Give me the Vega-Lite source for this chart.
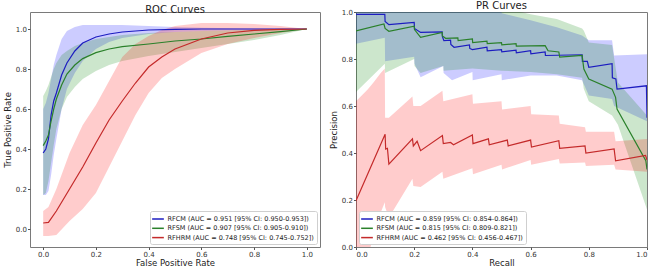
{
  "$schema": "https://vega.github.io/schema/vega-lite/v6.json",
  "background": "white",
  "padding": {"left": 2, "right": 7, "top": 0, "bottom": 2},
  "config": {
    "font": "DejaVu Sans",
    "view": {"stroke": "#7a7a7a", "strokeWidth": 1},
    "axis": {
      "grid": false, "domain": false,
      "labelFont": "DejaVu Sans", "labelFontSize": 7, "labelColor": "#333",
      "titleFont": "DejaVu Sans", "titleFontSize": 8.5, "titleFontWeight": "normal", "titleColor": "#222",
      "tickColor": "#555", "tickSize": 2.5, "labelPadding": 1
    },
    "axisY": {"minExtent": 16, "maxExtent": 16, "titlePadding": 2},
    "axisX": {"minExtent": 10, "maxExtent": 10, "titlePadding": 1},
    "title": {"font": "DejaVu Sans", "fontSize": 10, "fontWeight": "normal", "color": "#222", "offset": -3},
    "legend": {
      "offset": 3, "fillColor": "white", "strokeColor": "#cfcfcf", "padding": 2.5, "cornerRadius": 2,
      "labelFont": "DejaVu Sans", "labelFontSize": 6.5, "labelColor": "#222", "labelLimit": 300,
      "symbolType": "M-1.3,0H1.3", "symbolSize": 81, "symbolStrokeWidth": 1.5, "rowPadding": 0.3
    }
  },
  "datasets": {
    "roc": [
      {"model": "RFCM", "fpr": 0, "tpr": 0.38, "lo": 0.17, "hi": 0.6},
      {"model": "RFCM", "fpr": 0.01, "tpr": 0.4, "lo": 0.17, "hi": 0.63},
      {"model": "RFCM", "fpr": 0.02, "tpr": 0.45, "lo": 0.19, "hi": 0.68},
      {"model": "RFCM", "fpr": 0.03, "tpr": 0.57, "lo": 0.27, "hi": 0.75},
      {"model": "RFCM", "fpr": 0.04, "tpr": 0.64, "lo": 0.37, "hi": 0.82},
      {"model": "RFCM", "fpr": 0.05, "tpr": 0.68, "lo": 0.45, "hi": 0.87},
      {"model": "RFCM", "fpr": 0.07, "tpr": 0.77, "lo": 0.6, "hi": 0.95},
      {"model": "RFCM", "fpr": 0.09, "tpr": 0.83, "lo": 0.7, "hi": 0.99},
      {"model": "RFCM", "fpr": 0.12, "tpr": 0.89, "lo": 0.78, "hi": 1.01},
      {"model": "RFCM", "fpr": 0.15, "tpr": 0.93, "lo": 0.84, "hi": 1.02},
      {"model": "RFCM", "fpr": 0.2, "tpr": 0.96, "lo": 0.9, "hi": 1.02},
      {"model": "RFCM", "fpr": 0.25, "tpr": 0.975, "lo": 0.935, "hi": 1.02},
      {"model": "RFCM", "fpr": 0.3, "tpr": 0.985, "lo": 0.955, "hi": 1.02},
      {"model": "RFCM", "fpr": 0.4, "tpr": 0.995, "lo": 0.975, "hi": 1.015},
      {"model": "RFCM", "fpr": 0.5, "tpr": 0.998, "lo": 0.985, "hi": 1.01},
      {"model": "RFCM", "fpr": 0.6, "tpr": 1.0, "lo": 0.99, "hi": 1.006},
      {"model": "RFCM", "fpr": 0.8, "tpr": 1.0, "lo": 0.995, "hi": 1.003},
      {"model": "RFCM", "fpr": 1.0, "tpr": 1.0, "lo": 1.0, "hi": 1.0},
      {"model": "RFSM", "fpr": 0, "tpr": 0.417, "lo": 0.17, "hi": 0.665},
      {"model": "RFSM", "fpr": 0.01, "tpr": 0.44, "lo": 0.18, "hi": 0.69},
      {"model": "RFSM", "fpr": 0.02, "tpr": 0.47, "lo": 0.24, "hi": 0.72},
      {"model": "RFSM", "fpr": 0.03, "tpr": 0.54, "lo": 0.33, "hi": 0.76},
      {"model": "RFSM", "fpr": 0.04, "tpr": 0.6, "lo": 0.42, "hi": 0.8},
      {"model": "RFSM", "fpr": 0.05, "tpr": 0.65, "lo": 0.5, "hi": 0.83},
      {"model": "RFSM", "fpr": 0.07, "tpr": 0.72, "lo": 0.6, "hi": 0.87},
      {"model": "RFSM", "fpr": 0.09, "tpr": 0.775, "lo": 0.66, "hi": 0.89},
      {"model": "RFSM", "fpr": 0.12, "tpr": 0.82, "lo": 0.71, "hi": 0.915},
      {"model": "RFSM", "fpr": 0.15, "tpr": 0.852, "lo": 0.75, "hi": 0.93},
      {"model": "RFSM", "fpr": 0.2, "tpr": 0.882, "lo": 0.79, "hi": 0.95},
      {"model": "RFSM", "fpr": 0.25, "tpr": 0.9, "lo": 0.82, "hi": 0.96},
      {"model": "RFSM", "fpr": 0.3, "tpr": 0.912, "lo": 0.84, "hi": 0.97},
      {"model": "RFSM", "fpr": 0.4, "tpr": 0.925, "lo": 0.865, "hi": 0.98},
      {"model": "RFSM", "fpr": 0.5, "tpr": 0.94, "lo": 0.885, "hi": 0.985},
      {"model": "RFSM", "fpr": 0.6, "tpr": 0.95, "lo": 0.905, "hi": 0.99},
      {"model": "RFSM", "fpr": 0.7, "tpr": 0.963, "lo": 0.925, "hi": 0.993},
      {"model": "RFSM", "fpr": 0.8, "tpr": 0.975, "lo": 0.945, "hi": 0.996},
      {"model": "RFSM", "fpr": 0.9, "tpr": 0.987, "lo": 0.97, "hi": 0.998},
      {"model": "RFSM", "fpr": 1.0, "tpr": 1.0, "lo": 1.0, "hi": 1.0},
      {"model": "RFHRM", "fpr": 0, "tpr": 0.03, "lo": -0.035, "hi": 0.09},
      {"model": "RFHRM", "fpr": 0.02, "tpr": 0.033, "lo": -0.035, "hi": 0.11},
      {"model": "RFHRM", "fpr": 0.05, "tpr": 0.09, "lo": -0.03, "hi": 0.2},
      {"model": "RFHRM", "fpr": 0.1, "tpr": 0.2, "lo": 0.04, "hi": 0.38},
      {"model": "RFHRM", "fpr": 0.15, "tpr": 0.31, "lo": 0.1, "hi": 0.52},
      {"model": "RFHRM", "fpr": 0.2, "tpr": 0.43, "lo": 0.18, "hi": 0.62},
      {"model": "RFHRM", "fpr": 0.25, "tpr": 0.545, "lo": 0.31, "hi": 0.74},
      {"model": "RFHRM", "fpr": 0.3, "tpr": 0.64, "lo": 0.44, "hi": 0.86},
      {"model": "RFHRM", "fpr": 0.35, "tpr": 0.73, "lo": 0.57, "hi": 0.925},
      {"model": "RFHRM", "fpr": 0.4, "tpr": 0.81, "lo": 0.68, "hi": 0.965},
      {"model": "RFHRM", "fpr": 0.45, "tpr": 0.86, "lo": 0.755, "hi": 0.995},
      {"model": "RFHRM", "fpr": 0.5, "tpr": 0.9, "lo": 0.8, "hi": 1.015},
      {"model": "RFHRM", "fpr": 0.6, "tpr": 0.95, "lo": 0.88, "hi": 1.03},
      {"model": "RFHRM", "fpr": 0.7, "tpr": 0.98, "lo": 0.925, "hi": 1.03},
      {"model": "RFHRM", "fpr": 0.8, "tpr": 0.993, "lo": 0.955, "hi": 1.025},
      {"model": "RFHRM", "fpr": 0.9, "tpr": 0.998, "lo": 0.98, "hi": 1.015},
      {"model": "RFHRM", "fpr": 1.0, "tpr": 1.0, "lo": 1.0, "hi": 1.0}
    ],
    "pr_curve": [
      {"model": "RFCM", "recall": 0, "precision": 0.99},
      {"model": "RFCM", "recall": 0.099, "precision": 0.99},
      {"model": "RFCM", "recall": 0.1, "precision": 0.96},
      {"model": "RFCM", "recall": 0.113, "precision": 0.946},
      {"model": "RFCM", "recall": 0.2, "precision": 0.956},
      {"model": "RFCM", "recall": 0.201, "precision": 0.93},
      {"model": "RFCM", "recall": 0.222, "precision": 0.913},
      {"model": "RFCM", "recall": 0.296, "precision": 0.915},
      {"model": "RFCM", "recall": 0.297, "precision": 0.895},
      {"model": "RFCM", "recall": 0.302, "precision": 0.878},
      {"model": "RFCM", "recall": 0.325, "precision": 0.88},
      {"model": "RFCM", "recall": 0.326, "precision": 0.862},
      {"model": "RFCM", "recall": 0.337, "precision": 0.85},
      {"model": "RFCM", "recall": 0.39, "precision": 0.86},
      {"model": "RFCM", "recall": 0.391, "precision": 0.845},
      {"model": "RFCM", "recall": 0.4, "precision": 0.84},
      {"model": "RFCM", "recall": 0.45, "precision": 0.85},
      {"model": "RFCM", "recall": 0.451, "precision": 0.835},
      {"model": "RFCM", "recall": 0.5, "precision": 0.84},
      {"model": "RFCM", "recall": 0.501, "precision": 0.83},
      {"model": "RFCM", "recall": 0.55, "precision": 0.838},
      {"model": "RFCM", "recall": 0.551, "precision": 0.826},
      {"model": "RFCM", "recall": 0.6, "precision": 0.835},
      {"model": "RFCM", "recall": 0.601, "precision": 0.822},
      {"model": "RFCM", "recall": 0.65, "precision": 0.83},
      {"model": "RFCM", "recall": 0.651, "precision": 0.815},
      {"model": "RFCM", "recall": 0.777, "precision": 0.818},
      {"model": "RFCM", "recall": 0.778, "precision": 0.79},
      {"model": "RFCM", "recall": 0.795, "precision": 0.79},
      {"model": "RFCM", "recall": 0.8, "precision": 0.765},
      {"model": "RFCM", "recall": 0.88, "precision": 0.78},
      {"model": "RFCM", "recall": 0.881, "precision": 0.72},
      {"model": "RFCM", "recall": 0.893, "precision": 0.715},
      {"model": "RFCM", "recall": 0.897, "precision": 0.672},
      {"model": "RFCM", "recall": 0.998, "precision": 0.686},
      {"model": "RFCM", "recall": 1.0, "precision": 0.55},
      {"model": "RFSM", "recall": 0, "precision": 0.92},
      {"model": "RFSM", "recall": 0.096, "precision": 0.949},
      {"model": "RFSM", "recall": 0.1, "precision": 0.93},
      {"model": "RFSM", "recall": 0.113, "precision": 0.918},
      {"model": "RFSM", "recall": 0.2, "precision": 0.94},
      {"model": "RFSM", "recall": 0.201, "precision": 0.925},
      {"model": "RFSM", "recall": 0.222, "precision": 0.892},
      {"model": "RFSM", "recall": 0.296, "precision": 0.913},
      {"model": "RFSM", "recall": 0.297, "precision": 0.898},
      {"model": "RFSM", "recall": 0.308, "precision": 0.888},
      {"model": "RFSM", "recall": 0.35, "precision": 0.89},
      {"model": "RFSM", "recall": 0.351, "precision": 0.878},
      {"model": "RFSM", "recall": 0.4, "precision": 0.885},
      {"model": "RFSM", "recall": 0.401, "precision": 0.87},
      {"model": "RFSM", "recall": 0.45, "precision": 0.876},
      {"model": "RFSM", "recall": 0.451, "precision": 0.866},
      {"model": "RFSM", "recall": 0.5, "precision": 0.87},
      {"model": "RFSM", "recall": 0.501, "precision": 0.86},
      {"model": "RFSM", "recall": 0.55, "precision": 0.865},
      {"model": "RFSM", "recall": 0.551, "precision": 0.855},
      {"model": "RFSM", "recall": 0.65, "precision": 0.857},
      {"model": "RFSM", "recall": 0.66, "precision": 0.835},
      {"model": "RFSM", "recall": 0.697, "precision": 0.83},
      {"model": "RFSM", "recall": 0.7, "precision": 0.808},
      {"model": "RFSM", "recall": 0.777, "precision": 0.815},
      {"model": "RFSM", "recall": 0.783, "precision": 0.757},
      {"model": "RFSM", "recall": 0.8, "precision": 0.715},
      {"model": "RFSM", "recall": 0.88, "precision": 0.672},
      {"model": "RFSM", "recall": 0.892, "precision": 0.637},
      {"model": "RFSM", "recall": 0.897, "precision": 0.587},
      {"model": "RFSM", "recall": 0.996, "precision": 0.367},
      {"model": "RFSM", "recall": 1.0, "precision": 0.33},
      {"model": "RFHRM", "recall": 0, "precision": 0.197},
      {"model": "RFHRM", "recall": 0.1, "precision": 0.48},
      {"model": "RFHRM", "recall": 0.102, "precision": 0.417},
      {"model": "RFHRM", "recall": 0.108, "precision": 0.42},
      {"model": "RFHRM", "recall": 0.113, "precision": 0.353},
      {"model": "RFHRM", "recall": 0.194, "precision": 0.46},
      {"model": "RFHRM", "recall": 0.197, "precision": 0.43},
      {"model": "RFHRM", "recall": 0.21, "precision": 0.45},
      {"model": "RFHRM", "recall": 0.222, "precision": 0.41},
      {"model": "RFHRM", "recall": 0.297, "precision": 0.474},
      {"model": "RFHRM", "recall": 0.3, "precision": 0.44},
      {"model": "RFHRM", "recall": 0.325, "precision": 0.445},
      {"model": "RFHRM", "recall": 0.335, "precision": 0.435},
      {"model": "RFHRM", "recall": 0.4, "precision": 0.477},
      {"model": "RFHRM", "recall": 0.402, "precision": 0.44},
      {"model": "RFHRM", "recall": 0.455, "precision": 0.46},
      {"model": "RFHRM", "recall": 0.458, "precision": 0.435},
      {"model": "RFHRM", "recall": 0.52, "precision": 0.455},
      {"model": "RFHRM", "recall": 0.523, "precision": 0.43},
      {"model": "RFHRM", "recall": 0.6, "precision": 0.455},
      {"model": "RFHRM", "recall": 0.603, "precision": 0.425},
      {"model": "RFHRM", "recall": 0.697, "precision": 0.452},
      {"model": "RFHRM", "recall": 0.7, "precision": 0.42},
      {"model": "RFHRM", "recall": 0.787, "precision": 0.43},
      {"model": "RFHRM", "recall": 0.79, "precision": 0.4},
      {"model": "RFHRM", "recall": 0.887, "precision": 0.417},
      {"model": "RFHRM", "recall": 0.892, "precision": 0.367},
      {"model": "RFHRM", "recall": 0.995, "precision": 0.39},
      {"model": "RFHRM", "recall": 1.0, "precision": 0.37}
    ],
    "pr_band": [
      {"model": "RFCM", "recall": 0, "lo": 0.865, "hi": 1.02},
      {"model": "RFCM", "recall": 0.099, "lo": 0.89, "hi": 1.02},
      {"model": "RFCM", "recall": 0.1, "lo": 0.79, "hi": 1.02},
      {"model": "RFCM", "recall": 0.2, "lo": 0.81, "hi": 1.02},
      {"model": "RFCM", "recall": 0.201, "lo": 0.78, "hi": 1.02},
      {"model": "RFCM", "recall": 0.222, "lo": 0.722, "hi": 1.02},
      {"model": "RFCM", "recall": 0.3, "lo": 0.77, "hi": 1.02},
      {"model": "RFCM", "recall": 0.301, "lo": 0.74, "hi": 1.02},
      {"model": "RFCM", "recall": 0.33, "lo": 0.71, "hi": 1.02},
      {"model": "RFCM", "recall": 0.4, "lo": 0.745, "hi": 1.02},
      {"model": "RFCM", "recall": 0.401, "lo": 0.71, "hi": 1.02},
      {"model": "RFCM", "recall": 0.5, "lo": 0.735, "hi": 1.0},
      {"model": "RFCM", "recall": 0.501, "lo": 0.71, "hi": 0.995},
      {"model": "RFCM", "recall": 0.6, "lo": 0.73, "hi": 0.965},
      {"model": "RFCM", "recall": 0.69, "lo": 0.73, "hi": 0.935},
      {"model": "RFCM", "recall": 0.777, "lo": 0.71, "hi": 0.9},
      {"model": "RFCM", "recall": 0.8, "lo": 0.645, "hi": 0.88},
      {"model": "RFCM", "recall": 0.88, "lo": 0.63, "hi": 0.88},
      {"model": "RFCM", "recall": 0.887, "lo": 0.6, "hi": 0.815},
      {"model": "RFCM", "recall": 1.0, "lo": 0.535, "hi": 0.82},
      {"model": "RFSM", "recall": 0, "lo": 0.66, "hi": 1.02},
      {"model": "RFSM", "recall": 0.099, "lo": 0.78, "hi": 1.02},
      {"model": "RFSM", "recall": 0.1, "lo": 0.74, "hi": 1.02},
      {"model": "RFSM", "recall": 0.2, "lo": 0.8, "hi": 1.02},
      {"model": "RFSM", "recall": 0.201, "lo": 0.77, "hi": 1.02},
      {"model": "RFSM", "recall": 0.222, "lo": 0.74, "hi": 1.02},
      {"model": "RFSM", "recall": 0.3, "lo": 0.77, "hi": 1.02},
      {"model": "RFSM", "recall": 0.301, "lo": 0.75, "hi": 1.02},
      {"model": "RFSM", "recall": 0.4, "lo": 0.76, "hi": 1.02},
      {"model": "RFSM", "recall": 0.5, "lo": 0.75, "hi": 1.02},
      {"model": "RFSM", "recall": 0.6, "lo": 0.745, "hi": 0.99},
      {"model": "RFSM", "recall": 0.69, "lo": 0.735, "hi": 0.97},
      {"model": "RFSM", "recall": 0.777, "lo": 0.72, "hi": 0.93},
      {"model": "RFSM", "recall": 0.783, "lo": 0.672, "hi": 0.92},
      {"model": "RFSM", "recall": 0.8, "lo": 0.62, "hi": 0.87},
      {"model": "RFSM", "recall": 0.88, "lo": 0.56, "hi": 0.86},
      {"model": "RFSM", "recall": 0.9, "lo": 0.52, "hi": 0.7},
      {"model": "RFSM", "recall": 1.0, "lo": 0.16, "hi": 0.56},
      {"model": "RFHRM", "recall": 0, "lo": -0.1, "hi": 0.62},
      {"model": "RFHRM", "recall": 0.04, "lo": -0.05, "hi": 0.67},
      {"model": "RFHRM", "recall": 0.06, "lo": 0.05, "hi": 0.7},
      {"model": "RFHRM", "recall": 0.085, "lo": 0.147, "hi": 0.74},
      {"model": "RFHRM", "recall": 0.099, "lo": 0.19, "hi": 0.76},
      {"model": "RFHRM", "recall": 0.1, "lo": 0.17, "hi": 0.55},
      {"model": "RFHRM", "recall": 0.113, "lo": 0.125, "hi": 0.55},
      {"model": "RFHRM", "recall": 0.194, "lo": 0.29, "hi": 0.64},
      {"model": "RFHRM", "recall": 0.197, "lo": 0.26, "hi": 0.6},
      {"model": "RFHRM", "recall": 0.222, "lo": 0.255, "hi": 0.6},
      {"model": "RFHRM", "recall": 0.297, "lo": 0.32, "hi": 0.665},
      {"model": "RFHRM", "recall": 0.3, "lo": 0.29, "hi": 0.62},
      {"model": "RFHRM", "recall": 0.4, "lo": 0.335, "hi": 0.65},
      {"model": "RFHRM", "recall": 0.402, "lo": 0.31, "hi": 0.61},
      {"model": "RFHRM", "recall": 0.5, "lo": 0.35, "hi": 0.62},
      {"model": "RFHRM", "recall": 0.502, "lo": 0.33, "hi": 0.585},
      {"model": "RFHRM", "recall": 0.6, "lo": 0.37, "hi": 0.6},
      {"model": "RFHRM", "recall": 0.602, "lo": 0.35, "hi": 0.565},
      {"model": "RFHRM", "recall": 0.697, "lo": 0.374, "hi": 0.56},
      {"model": "RFHRM", "recall": 0.7, "lo": 0.355, "hi": 0.525},
      {"model": "RFHRM", "recall": 0.787, "lo": 0.36, "hi": 0.51},
      {"model": "RFHRM", "recall": 0.79, "lo": 0.345, "hi": 0.49},
      {"model": "RFHRM", "recall": 0.887, "lo": 0.35, "hi": 0.49},
      {"model": "RFHRM", "recall": 0.892, "lo": 0.33, "hi": 0.45},
      {"model": "RFHRM", "recall": 1.0, "lo": 0.32, "hi": 0.46}
    ]
  },
  "spacing": 7,
  "resolve": {
    "scale": {"color": "independent", "fill": "independent"},
    "legend": {"color": "independent", "fill": "independent"}
  },
  "hconcat": [
    {
      "width": 290,
      "height": 235,
      "title": "ROC Curves",
      "data": {"name": "roc"},
      "layer": [
        {
          "mark": {"type": "area", "opacity": 0.2},
          "encoding": {
            "x": {"field": "fpr", "type": "quantitative", "scale": {"domain": [-0.05, 1.05], "nice": false, "zero": false}},
            "y": {"field": "lo", "type": "quantitative", "scale": {"domain": [-0.09, 1.085], "nice": false, "zero": false}},
            "y2": {"field": "hi"},
            "fill": {"field": "model", "type": "nominal", "scale": {"domain": ["RFHRM", "RFSM", "RFCM"], "range": ["#ff0000", "#008000", "#0000ff"]}, "legend": null}
          }
        },
        {
          "mark": {"type": "line", "strokeWidth": 1.2},
          "encoding": {
            "x": {"field": "fpr", "type": "quantitative", "title": "False Positive Rate",
                  "axis": {"values": [0, 0.2, 0.4, 0.6, 0.8, 1.0], "format": ".1f"}},
            "y": {"field": "tpr", "type": "quantitative", "title": "True Positive Rate",
                  "axis": {"values": [0, 0.2, 0.4, 0.6, 0.8, 1.0], "format": ".1f"}},
            "color": {
              "field": "model", "type": "nominal",
              "scale": {"domain": ["RFCM", "RFSM", "RFHRM"], "range": ["#1c1cc0", "#2a802a", "#c42a2a"]},
              "legend": {
                "title": null, "orient": "bottom-right",
                "labelExpr": "{'RFCM': 'RFCM (AUC = 0.951 [95% CI: 0.950-0.953])', 'RFSM': 'RFSM (AUC = 0.907 [95% CI: 0.905-0.910])', 'RFHRM': 'RFHRM (AUC = 0.748 [95% CI: 0.745-0.752])'}[datum.label]"
              }
            }
          }
        }
      ]
    },
    {
      "width": 291,
      "height": 235,
      "title": "PR Curves",
      "layer": [
        {
          "data": {"name": "pr_band"},
          "mark": {"type": "area", "opacity": 0.2, "clip": true},
          "encoding": {
            "x": {"field": "recall", "type": "quantitative", "scale": {"domain": [0, 1], "nice": false}},
            "y": {"field": "lo", "type": "quantitative", "scale": {"domain": [0, 1], "nice": false}},
            "y2": {"field": "hi"},
            "fill": {"field": "model", "type": "nominal", "scale": {"domain": ["RFHRM", "RFSM", "RFCM"], "range": ["#ff0000", "#008000", "#0000ff"]}, "legend": null}
          }
        },
        {
          "data": {"name": "pr_curve"},
          "mark": {"type": "line", "strokeWidth": 1.2, "clip": true},
          "encoding": {
            "x": {"field": "recall", "type": "quantitative", "title": "Recall",
                  "axis": {"values": [0, 0.2, 0.4, 0.6, 0.8, 1.0], "format": ".1f"}},
            "y": {"field": "precision", "type": "quantitative", "title": "Precision",
                  "axis": {"values": [0, 0.2, 0.4, 0.6, 0.8, 1.0], "format": ".1f"}},
            "color": {
              "field": "model", "type": "nominal",
              "scale": {"domain": ["RFCM", "RFSM", "RFHRM"], "range": ["#1c1cc0", "#2a802a", "#c42a2a"]},
              "legend": {
                "title": null, "orient": "bottom-left",
                "labelExpr": "{'RFCM': 'RFCM (AUC = 0.859 [95% CI: 0.854-0.864])', 'RFSM': 'RFSM (AUC = 0.815 [95% CI: 0.809-0.821])', 'RFHRM': 'RFHRM (AUC = 0.462 [95% CI: 0.456-0.467])'}[datum.label]"
              }
            }
          }
        }
      ]
    }
  ]
}
